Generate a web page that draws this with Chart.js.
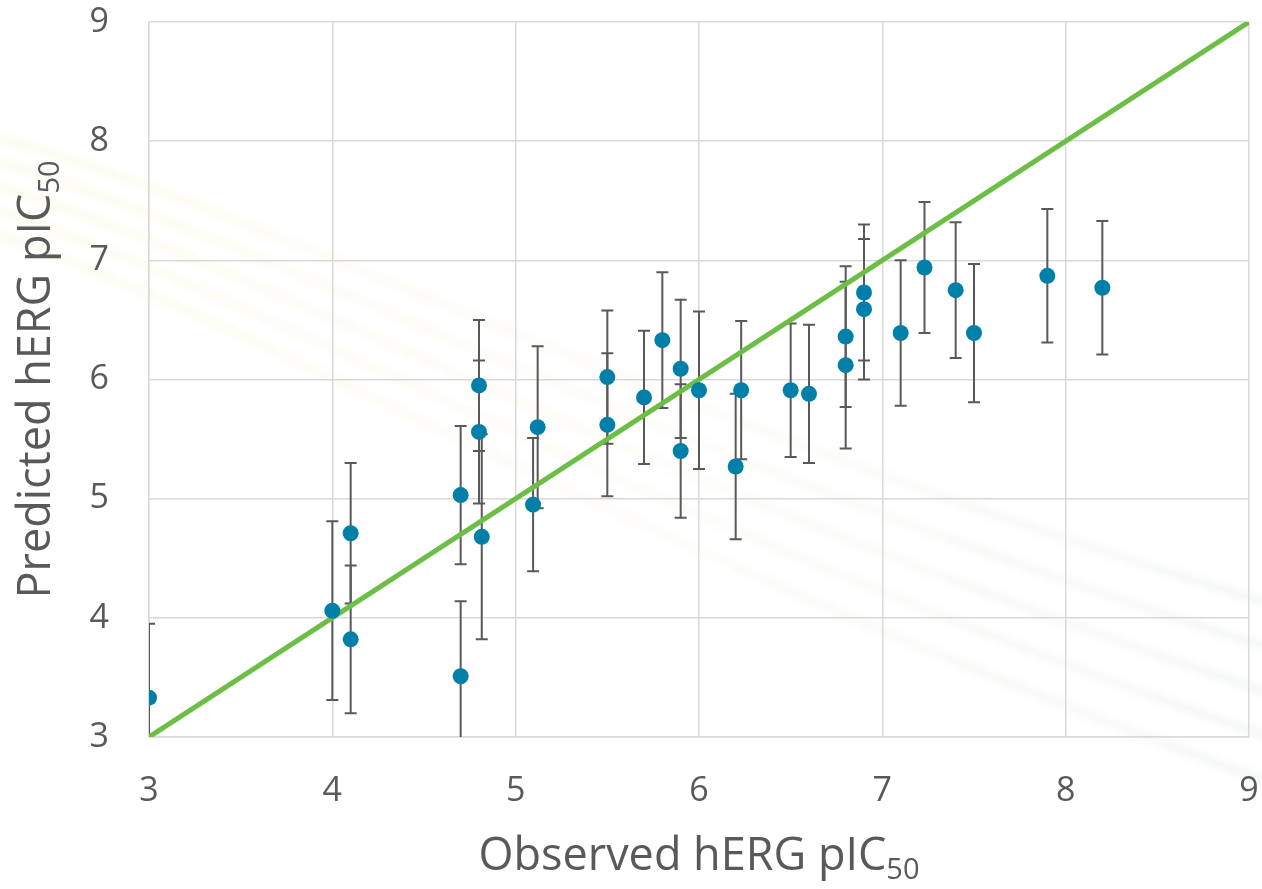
<!DOCTYPE html>
<html>
<head>
<meta charset="utf-8">
<title>hERG pIC50: predicted vs observed</title>
<script src="https://cdn.jsdelivr.net/npm/chart.js@4/dist/chart.umd.min.js"></script>
<style>
  html, body { margin: 0; padding: 0; background: #fff; }
  #wrap { width: 1262px; height: 889px; position: relative; }
</style>
</head>
<body>
<div id="wrap"><canvas id="herg-chart"></canvas></div>
<script>
// observed vs predicted hERG pIC50, with prediction error (+/-)
const observed = [3.0, 4.0, 4.1, 4.1, 4.7, 4.7, 4.8, 4.8, 4.815, 5.095, 5.12, 5.5, 5.5, 5.7, 5.8, 5.9,
  5.9, 6.0, 6.2, 6.23, 6.5, 6.6, 6.8, 6.8, 6.9, 6.9, 7.1, 7.23, 7.4, 7.5, 7.9, 8.2];
const predicted = [3.33, 4.06, 4.71, 3.82, 5.03, 3.51, 5.95, 5.56, 4.68, 4.95, 5.60, 6.02, 5.62, 5.85, 6.33, 6.09,
  5.40, 5.91, 5.27, 5.91, 5.91, 5.88, 6.36, 6.12, 6.73, 6.59, 6.39, 6.94, 6.75, 6.39, 6.87, 6.77];
const errors = [0.62, 0.75, 0.59, 0.62, 0.58, 0.63, 0.55, 0.60, 0.86, 0.56, 0.68, 0.56, 0.60, 0.56, 0.57, 0.58,
  0.56, 0.66, 0.61, 0.58, 0.56, 0.58, 0.59, 0.70, 0.57, 0.59, 0.61, 0.55, 0.57, 0.58, 0.56, 0.56];

// y = x reference line
const identityLine = [3, 9];
const axisTicks = [3, 4, 5, 6, 7, 8, 9];

const FONT = "'Open Sans', 'DejaVu Sans', sans-serif";
const TEXT_COLOR = "#595959";

const points = observed.map((x, i) => ({ x: x, y: predicted[i] }));

// faint swoosh stripes behind the plot
const backdrop = {
  id: "backdrop",
  beforeDraw(chart) {
    const { ctx, width, height } = chart;
    ctx.save();
    ctx.fillStyle = "#fff";
    ctx.fillRect(0, 0, width, height);
    const grad = ctx.createLinearGradient(0, 0, width, 0);
    grad.addColorStop(0, "rgba(235, 228, 150, 0.12)");
    grad.addColorStop(0.5, "rgba(240, 222, 170, 0.09)");
    grad.addColorStop(1, "rgba(170, 195, 195, 0.10)");
    ctx.strokeStyle = grad;
    ctx.filter = "blur(3px)";
    for (let k = 0; k < 5; k++) {
      ctx.lineWidth = 11;
      ctx.beginPath();
      ctx.moveTo(-30, 130 + k * 24);
      ctx.bezierCurveTo(250, 200 + k * 28, 650, 420 + k * 36, width + 30, 610 + k * 45);
      ctx.stroke();
    }
    ctx.restore();
  }
};

// vertical error bars with caps, clipped to the plot area
const errorBars = {
  id: "errorBars",
  beforeDatasetsDraw(chart) {
    const { ctx, chartArea, scales } = chart;
    const xs = scales.x, ys = scales.y;
    ctx.save();
    ctx.beginPath();
    ctx.rect(chartArea.left, chartArea.top, chartArea.width, chartArea.height);
    ctx.clip();
    ctx.strokeStyle = "#595959";
    ctx.lineWidth = 2;
    const cap = 6;
    points.forEach((p, i) => {
      const px = xs.getPixelForValue(p.x);
      const top = ys.getPixelForValue(p.y + errors[i]);
      const bot = ys.getPixelForValue(p.y - errors[i]);
      ctx.beginPath();
      ctx.moveTo(px, top);
      ctx.lineTo(px, bot);
      ctx.moveTo(px - cap, top);
      ctx.lineTo(px + cap, top);
      ctx.moveTo(px - cap, bot);
      ctx.lineTo(px + cap, bot);
      ctx.stroke();
    });
    ctx.restore();
  }
};

// axis titles with a subscript "50"
function drawSubTitle(ctx, main, sub, size) {
  ctx.font = size + "px " + FONT;
  const w1 = ctx.measureText(main).width;
  const subSize = Math.round(size * 0.64);
  ctx.font = subSize + "px " + FONT;
  const w2 = ctx.measureText(sub).width;
  const start = -(w1 + w2) / 2;
  ctx.font = size + "px " + FONT;
  ctx.fillText(main, start, 0);
  ctx.font = subSize + "px " + FONT;
  ctx.fillText(sub, start + w1, size * 0.2);
}

const axisTitles = {
  id: "axisTitles",
  afterDraw(chart) {
    const { ctx, chartArea } = chart;
    ctx.save();
    ctx.fillStyle = TEXT_COLOR;
    ctx.textBaseline = "alphabetic";
    ctx.textAlign = "left";

    ctx.save();
    ctx.translate((chartArea.left + chartArea.right) / 2, 870);
    drawSubTitle(ctx, "Observed hERG pIC", "50", 45);
    ctx.restore();

    ctx.save();
    ctx.translate(50, (chartArea.top + chartArea.bottom) / 2);
    ctx.rotate(-Math.PI / 2);
    drawSubTitle(ctx, "Predicted hERG pIC", "50", 45);
    ctx.restore();

    ctx.restore();
  }
};

function fixBox(size, key) {
  return (scale) => {
    scale[key] = size;
    scale.paddingTop = 0;
    scale.paddingBottom = 0;
    scale.paddingLeft = 0;
    scale.paddingRight = 0;
  };
}

const ctx = document.getElementById("herg-chart").getContext("2d");
const chart = new Chart(ctx, {
  type: "scatter",
  data: {
    datasets: [
      {
        label: "hERG pIC50",
        data: points,
        backgroundColor: "#0080A8",
        borderColor: "#0080A8",
        borderWidth: 0,
        pointRadius: 8,
        order: 0
      },
      {
        label: "y = x",
        data: identityLine.map((v) => ({ x: v, y: v })),
        showLine: true,
        borderColor: "#6CBE45",
        borderWidth: 5,
        pointRadius: 0,
        order: 1
      }
    ]
  },
  options: {
    responsive: true,
    maintainAspectRatio: false,
    animation: false,
    layout: { padding: { left: 0, right: 13, top: 22, bottom: 0 } },
    plugins: {
      legend: { display: false },
      tooltip: { enabled: false }
    },
    scales: {
      x: {
        type: "linear",
        min: 3,
        max: 9,
        afterBuildTicks: (scale) => { scale.ticks = axisTicks.map((v) => ({ value: v })); },
        afterFit: fixBox(152, "height"),
        grid: { color: "#D9D9D9", lineWidth: 1.5, drawTicks: false },
        border: { color: "#D9D9D9", width: 1.5 },
        ticks: { color: TEXT_COLOR, padding: 34, font: { family: FONT, size: 34 } }
      },
      y: {
        type: "linear",
        min: 3,
        max: 9,
        afterBuildTicks: (scale) => { scale.ticks = axisTicks.map((v) => ({ value: v })); },
        afterFit: fixBox(149, "width"),
        grid: { color: "#D9D9D9", lineWidth: 1.5, drawTicks: false },
        border: { color: "#D9D9D9", width: 1.5 },
        ticks: { color: TEXT_COLOR, padding: 40, font: { family: FONT, size: 34 } }
      }
    }
  },
  plugins: [backdrop, errorBars, axisTitles]
});
</script>
</body>
</html>
